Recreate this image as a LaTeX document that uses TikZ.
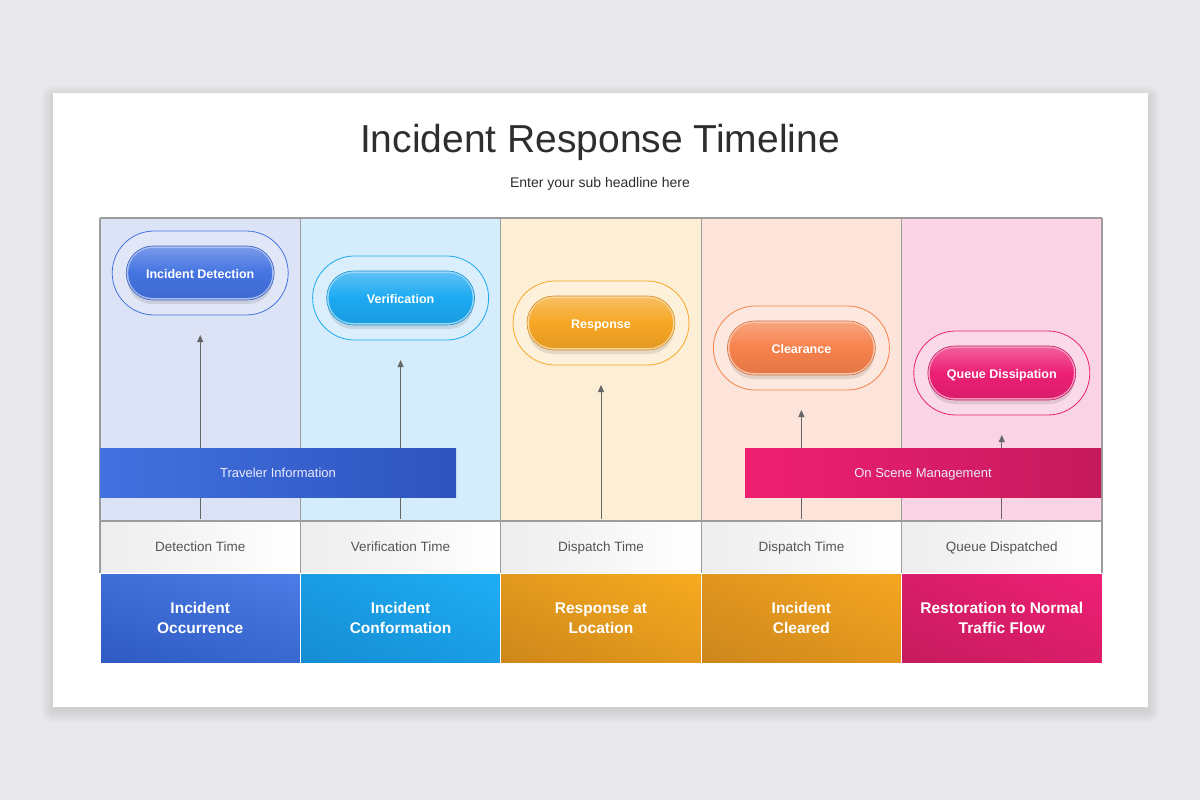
\documentclass[tikz,border=0pt]{standalone}
\usepackage{fontspec}
\setmainfont{Liberation Sans}
\usetikzlibrary{arrows.meta,shadings}
\definecolor{pagebg}{HTML}{E9E8EA}
\definecolor{gridc}{HTML}{9C9C9C}
\definecolor{titlec}{HTML}{2E2E2E}
\definecolor{labc}{HTML}{555555}
\definecolor{arrc}{HTML}{666666}
\definecolor{bgA}{HTML}{DDE3F6}
\definecolor{bgB}{HTML}{D4ECFB}
\definecolor{bgC}{HTML}{FDEFD6}
\definecolor{bgD}{HTML}{FCE4DA}
\definecolor{bgE}{HTML}{FAD4E4}
\definecolor{cA}{HTML}{4473E1}
\definecolor{cB}{HTML}{1CA9F2}
\definecolor{cC}{HTML}{F7A624}
\definecolor{cD}{HTML}{F6814B}
\definecolor{cE}{HTML}{EC1F74}
\definecolor{bAl}{HTML}{4C7CE6}
\definecolor{bAd}{HTML}{2E5AC2}
\definecolor{bBl}{HTML}{1EAEF5}
\definecolor{bBd}{HTML}{158CD2}
\definecolor{bCl}{HTML}{F8AB1F}
\definecolor{bCd}{HTML}{CD871B}
\definecolor{bDl}{HTML}{F6A620}
\definecolor{bDd}{HTML}{CC861C}
\definecolor{bEl}{HTML}{EF2075}
\definecolor{bEd}{HTML}{C51B5D}
\definecolor{trL}{HTML}{4272E0}
\definecolor{trR}{HTML}{2D53BE}
\definecolor{osL}{HTML}{EF1F71}
\definecolor{osR}{HTML}{C41A5C}
\tikzset{
  colbg/.style={inner sep=0pt, outer sep=0pt, minimum width=200.4pt, minimum height=303pt, anchor=north west},
  labbox/.style={inner sep=0pt, outer sep=0pt, minimum width=200.4pt, minimum height=52pt, anchor=north west,
     text height=10pt, text depth=3pt,
     left color=black!7, right color=white, text=labc, font=\fontsize{13.5}{16}\selectfont},
  botbox/.style={inner sep=0pt, outer sep=0pt, minimum width=200.4pt, minimum height=90pt, anchor=north west,
     draw=white, line width=0.8pt, text=white, align=center, font=\bfseries\fontsize{15.5}{20.5}\selectfont},
  ring/.style={line width=0.8pt, rounded corners=42pt, minimum width=176pt, minimum height=84pt, inner sep=0pt, fill=white, fill opacity=0.15},
  pillshadow/.style={rounded corners=25pt, minimum width=146pt, minimum height=50pt, inner sep=0pt, fill=black, opacity=0.10},
  pill/.style={rounded corners=25pt, minimum width=146pt, minimum height=52pt, inner sep=0pt, line width=2pt,
     text height=11.5pt, text depth=1pt,
     text=white, font=\bfseries\fontsize{12.5}{14}\selectfont},
  bar/.style={inner sep=0pt, outer sep=0pt, minimum width=356pt, minimum height=49pt, anchor=north west,
     text height=12pt, text depth=1.5pt,
     text=white!92!blue, font=\fontsize{13}{15}\selectfont},
  arr/.style={draw=arrc, line width=1pt, -{Triangle[length=7pt,width=6pt]}},
  gridline/.style={draw=gridc, line width=1.1pt},
}
\begin{document}
\begin{tikzpicture}[x=1pt,y=-1pt]
\useasboundingbox (0,0) rectangle (1200,800);
\fill[pagebg] (0,0) rectangle (1200,800);
% card shadow
\foreach \k in {1,...,12}
  \fill[black, opacity=0.006, rounded corners=\k pt] (53-\k,93-\k+4) rectangle (1148+\k,707+\k+4);
\node[fill=white, inner sep=0pt, outer sep=0pt, minimum width=1095pt, minimum height=614pt, anchor=north west] (card) at (53,93) {};
% title
\node[text=titlec, font=\fontsize{39}{44}\selectfont] (title) at (600,142) {Incident Response Timeline};
\node[text=titlec, font=\fontsize{14}{17}\selectfont] (sub) at (600,184) {Enter your sub headline here};
% column backgrounds
\foreach \i/\bg in {0/bgA,1/bgB,2/bgC,3/bgD,4/bgE}
  \node[colbg, fill=\bg] (col\i) at ({100+200.4*\i},218) {};
% grid lines
\draw[gridline] (100,218) -- (1102,218);
\draw[gridline] (100,521) -- (1102,521);
\foreach \i in {0,...,5}
  \draw[gridline] ({100+200.4*\i},218) -- ({100+200.4*\i},573);
% arrows
\foreach \i in {0,...,4}{
  \coordinate (a\i) at ({200.2+200.4*\i},519);
  \coordinate (t\i) at ({200.2+200.4*\i},{335+25*\i});
  \draw[arr] (a\i) -- (t\i);
}
% bars
\node[bar, left color=trL, right color=trR] (trav) at (100,448) {Traveler Information};
\node[bar, left color=osL, right color=osR] (scene) at (745,448) {On Scene Management};
% pills
\foreach \i/\c/\t in {0/cA/Incident Detection,1/cB/Verification,2/cC/Response,3/cD/Clearance,4/cE/Queue Dissipation}{
  \node[ring, draw=\c, draw opacity=1] (ring\i) at ({200.2+200.4*\i},{273+25*\i}) {};
  \node[pillshadow] (sh\i) at ({200.2+200.4*\i},{279+25*\i}) {};
  \node[pill, draw=white!55!\c, top color=\c!72!white, bottom color=\c!92!black, middle color=\c] (pill\i) at ({200.2+200.4*\i},{273+25*\i}) {\t};
  \draw[\c!85!black, line width=0.6pt, rounded corners=27pt] ({200.2+200.4*\i-74},{273+25*\i-27}) rectangle ({200.2+200.4*\i+74},{273+25*\i+27});
}
% label row
\foreach \i/\t in {0/Detection Time,1/Verification Time,2/Dispatch Time,3/Dispatch Time,4/Queue Dispatched}
  \node[labbox] (lab\i) at ({100+200.4*\i},521.5) {\t};
\draw[gridline] (100,521) -- (1102,521);
\foreach \i in {0,...,5}
  \draw[gridline] ({100+200.4*\i},521) -- ({100+200.4*\i},573);
% bottom boxes
\node[botbox, lower left=bAd, upper right=bAl, lower right=bAd!60!bAl, upper left=bAd!40!bAl] (bot0) at (100,573) {Incident\\Occurrence};
\node[botbox, lower left=bBd, upper right=bBl, lower right=bBd!50!bBl, upper left=bBd!50!bBl] (bot1) at (300.4,573) {Incident\\Conformation};
\node[botbox, lower left=bCd, upper right=bCl, lower right=bCd!50!bCl, upper left=bCd!50!bCl] (bot2) at (500.8,573) {Response at\\Location};
\node[botbox, lower left=bDd, upper right=bDl, lower right=bDd!50!bDl, upper left=bDd!50!bDl] (bot3) at (701.2,573) {Incident\\Cleared};
\node[botbox, lower left=bEd, upper right=bEl, lower right=bEd!50!bEl, upper left=bEd!50!bEl] (bot4) at (901.6,573) {Restoration to Normal\\Traffic Flow};
\end{tikzpicture}
\end{document}
